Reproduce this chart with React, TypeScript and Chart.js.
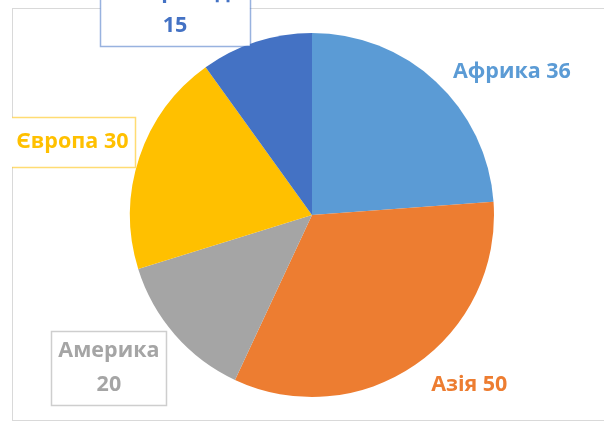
import React, { useEffect, useRef } from "react";
import { Chart, registerables } from "chart.js";

Chart.register(...registerables);

const categories = ["Африка", "Азія", "Америка", "Європа", "Антарктида"];
const values = [36, 50, 20, 30, 15];
const sliceColors = ["#5B9BD5", "#ED7D31", "#A5A5A5", "#FFC000", "#4472C4"];

// label layout (style, not data): offset from arc outer mid-point, boxed, multi-line
const labelOffsets: [number, number][] = [
  [76, -10],
  [54, 20],
  [-66, 33],
  [-67, -15],
  [-81, -33],
];
const labelBoxed = [false, false, true, true, true];
const labelTwoLines = [false, false, true, false, true];
const labelPadY = [0, 0, 3, 8, 3];

const FONT = "bold 21.5px 'Open Sans', 'Noto Sans', sans-serif";
const LINE_H = 34;

const framePlugin = {
  id: "frame",
  beforeDraw(chart: any) {
    const ctx = chart.ctx;
    ctx.save();
    ctx.fillStyle = "#ffffff";
    ctx.fillRect(0, 0, chart.width, chart.height);
    ctx.strokeStyle = "#D9D9D9";
    ctx.lineWidth = 1;
    ctx.strokeRect(12.5, 8.5, 600, 412);
    ctx.restore();
  },
};

const labelPlugin = {
  id: "sliceLabels",
  afterDraw(chart: any) {
    const ctx = chart.ctx;
    const meta = chart.getDatasetMeta(0);
    ctx.save();
    ctx.beginPath();
    ctx.rect(12, -500, 1000, 1500);
    ctx.clip();
    ctx.font = FONT;
    ctx.textAlign = "center";
    ctx.textBaseline = "middle";
    meta.data.forEach((arc: any, i: number) => {
      const p = arc.getProps(["x", "y", "startAngle", "endAngle", "outerRadius"], true);
      const mid = (p.startAngle + p.endAngle) / 2;
      const px = p.x + Math.cos(mid) * p.outerRadius;
      const py = p.y + Math.sin(mid) * p.outerRadius;
      const cx = px + labelOffsets[i][0];
      const cy = py + labelOffsets[i][1];
      const v = String(chart.data.datasets[0].data[i]);
      const name = String(chart.data.labels[i]);
      const lines = labelTwoLines[i] ? [name, v] : [name + " " + v];
      const color = sliceColors[i];
      const w = Math.max(...lines.map((l) => ctx.measureText(l).width));
      const h = lines.length * LINE_H;
      if (labelBoxed[i]) {
        const bw = w + 14;
        const bh = h + labelPadY[i] * 2;
        ctx.fillStyle = "#ffffff";
        ctx.fillRect(cx - bw / 2, cy - bh / 2, bw, bh);
        ctx.strokeStyle = color;
        ctx.globalAlpha = 0.55;
        ctx.lineWidth = 1.5;
        ctx.strokeRect(Math.round(cx - bw / 2) + 0.5, Math.round(cy - bh / 2) + 0.5, Math.round(bw), Math.round(bh));
        ctx.globalAlpha = 1;
      }
      ctx.fillStyle = color;
      lines.forEach((l, k) => {
        ctx.fillText(l, cx, cy - h / 2 + LINE_H / 2 + k * LINE_H);
      });
    });
    ctx.restore();
  },
};

export default function App() {
  const ref = useRef<HTMLCanvasElement | null>(null);
  useEffect(() => {
    if (!ref.current) return;
    const chart = new Chart(ref.current, {
      type: "pie",
      data: {
        labels: categories,
        datasets: [
          {
            data: values,
            backgroundColor: sliceColors,
            borderWidth: 0,
          },
        ],
      },
      options: {
        animation: false,
        responsive: false,
        maintainAspectRatio: false,
        layout: { padding: { left: 130, right: 110, top: 33, bottom: 26 } },
        plugins: {
          legend: { display: false },
          tooltip: { enabled: false },
        },
      },
      plugins: [framePlugin, labelPlugin],
    });
    return () => chart.destroy();
  }, []);
  return (
    <div style={{ position: "fixed", left: 0, top: 0, width: 604, height: 423, background: "#fff" }}>
      <canvas ref={ref} width={604} height={423} style={{ width: 604, height: 423, display: "block" }} />
    </div>
  );
}
